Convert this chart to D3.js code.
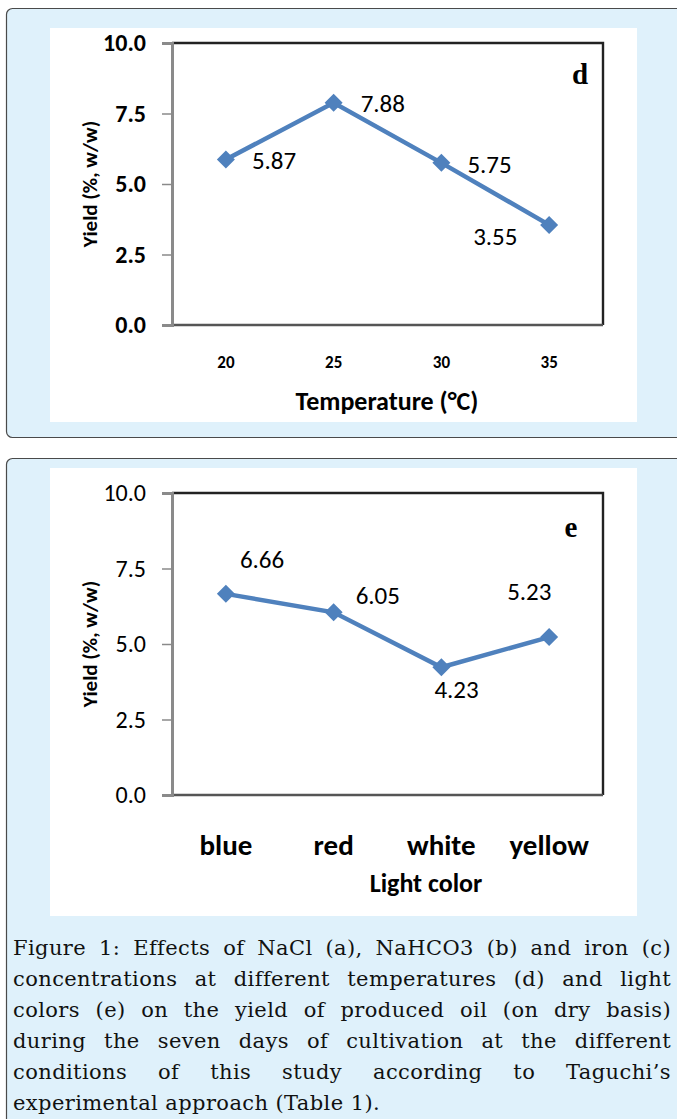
<!DOCTYPE html>
<html><head><meta charset="utf-8">
<script src="https://cdn.jsdelivr.net/npm/d3@7"></script>
<style>
html,body{margin:0;padding:0;background:#fff;}
#wrap{position:relative;width:677px;height:1119px;overflow:hidden;}
svg{position:absolute;left:0;top:0;}
#caption{position:absolute;left:13px;top:933px;width:658px;font-family:"DejaVu Serif","Liberation Serif",serif;font-size:21px;letter-spacing:0.4px;color:#111;line-height:31px;}
#caption div{text-align:justify;text-align-last:justify;white-space:nowrap;}
#caption div.last{text-align-last:left;}
</style></head>
<body><div id="wrap"><svg id="svg" width="677" height="1119"></svg><div id="caption"></div></div>
<script>
// ---- data ----
const tempCategories = ["20","25","30","35"];
const tempYield = [5.87, 7.88, 5.75, 3.55];
const lightCategories = ["blue","red","white","yellow"];
const lightYield = [6.66, 6.05, 4.23, 5.23];
const yTicks = [0, 2.5, 5.0, 7.5, 10.0];
const yTitle = "Yield (%, w/w)";
const xTitleD = "Temperature (\u00B0C)";
const xTitleE = "Light color";
const captionLines = [
  "Figure 1: Effects of NaCl (a), NaHCO3 (b) and iron (c)",
  "concentrations at different temperatures (d) and light",
  "colors (e) on the yield of produced oil (on dry basis)",
  "during the seven days of cultivation at the different",
  "conditions of this study according to Taguchi\u2019s",
  "experimental approach (Table 1)."
];
// label offsets from the marker (style only): [left edge dx, vertical centre dy]
const labelOffD = [[26,2],[27,1],[26,2],[-76,12]];
const labelOffE = [[14,-34],[22,-16],[-7,23],[-42,-45]];

const svg = d3.select("#svg");
const font = "Carlito, Calibri, Lato, 'Open Sans', sans-serif";

function panel(y0, h){
  svg.append("rect").attr("x",6.5).attr("y",y0+0.5).attr("width",700).attr("height",h)
    .attr("rx",6).attr("fill","#dff1fb").attr("stroke","#4a4a4a").attr("stroke-width",1.2);
}
panel(8, 429);
panel(458, 700);

const diamond = {draw(ctx, size){const r=Math.sqrt(size/2);ctx.moveTo(0,-r);ctx.lineTo(r,0);ctx.lineTo(0,r);ctx.lineTo(-r,0);ctx.closePath();}};

function chart(o){
  const g = svg.append("g");
  g.append("rect").attr("x",50).attr("y",o.wy0).attr("width",587).attr("height",o.wy1-o.wy0).attr("fill","#fff");
  const x = d3.scaleBand().domain(o.cats).range([172,603]);
  const y = d3.scaleLinear().domain([0,10]).range([o.py1, o.py0]);
  g.append("path").attr("d",`M172,${o.py0}H603V${o.py1}`).attr("fill","none").attr("stroke","#222").attr("stroke-width",2.4);
  g.append("path").attr("d",`M172,${o.py1}H603`).attr("fill","none").attr("stroke","#555").attr("stroke-width",2.4);
  const ya = g.append("g").attr("transform","translate(172,0)")
    .call(d3.axisLeft(y).tickValues(yTicks).tickFormat(d3.format(".1f")).tickSize(10).tickPadding(16));
  ya.select(".domain").attr("stroke","#8a8a8a").attr("stroke-width",3);
  ya.selectAll(".tick line").attr("stroke","#8a8a8a").attr("stroke-width",1.5);
  ya.selectAll(".tick text").attr("font-family",font).attr("font-size",o.ytSize)
    .attr("font-weight",o.ytWeight).attr("fill","#000");
  const xa = g.append("g").attr("transform",`translate(0,${o.py1})`)
    .call(d3.axisBottom(x).tickSize(0).tickPadding(0));
  xa.select(".domain").remove();
  xa.selectAll(".tick text").attr("font-family",font).attr("font-size",o.xtSize)
    .attr("font-weight","bold").attr("fill","#000").attr("dy",null).attr("y",o.xBase);
  g.append("text").attr("transform",`translate(97,${(o.py0+o.py1)/2}) rotate(-90)`)
    .attr("text-anchor","middle").attr("font-family",font).attr("font-size",21).attr("font-weight","bold").text(yTitle);
  g.append("text").attr("x",o.xtX).attr("y",o.xtY).attr("text-anchor","middle")
    .attr("font-family",font).attr("font-size",o.xtTitleSize).attr("font-weight","bold").text(o.xTitle);
  g.append("text").attr("x",o.letterX).attr("y",o.letterY).attr("text-anchor","middle")
    .attr("font-family","'Liberation Serif','Times New Roman',serif").attr("font-size",29).attr("font-weight","bold").text(o.letter);
  const pts = o.cats.map((c,i)=>[x(c)+x.bandwidth()/2, y(o.vals[i])]);
  g.append("path").attr("d",d3.line()(pts)).attr("fill","none").attr("stroke","#4f81bd").attr("stroke-width",4.5);
  g.selectAll(".mk").data(pts).enter().append("path")
    .attr("transform",d=>`translate(${d[0]},${d[1]})`)
    .attr("d",d3.symbol().type(diamond).size(162)).attr("fill","#4f81bd");
  g.selectAll(".lb").data(pts).enter().append("text")
    .attr("x",(d,i)=>d[0]+o.off[i][0]).attr("y",(d,i)=>d[1]+o.off[i][1]+8)
    .attr("font-family",font).attr("font-size",25).attr("fill","#000")
    .text((d,i)=>o.vals[i].toFixed(2));
}

chart({wy0:28, wy1:422, py0:43, py1:325, cats:tempCategories, vals:tempYield, off:labelOffD,
  ytSize:24, ytWeight:"bold", xtSize:17, xBase:43, xTitle:xTitleD, xtTitleSize:26, xtX:387, xtY:410,
  letter:"d", letterX:580, letterY:84});
chart({wy0:468, wy1:916, py0:493, py1:795, cats:lightCategories, vals:lightYield, off:labelOffE,
  ytSize:24, ytWeight:"normal", xtSize:29, xBase:60, xTitle:xTitleE, xtTitleSize:26, xtX:426, xtY:892,
  letter:"e", letterX:571, letterY:537});

d3.select("#caption").selectAll("div").data(captionLines).enter().append("div")
  .attr("class",(d,i)=>i===captionLines.length-1?"last":null).text(d=>d);
</script></body></html>
